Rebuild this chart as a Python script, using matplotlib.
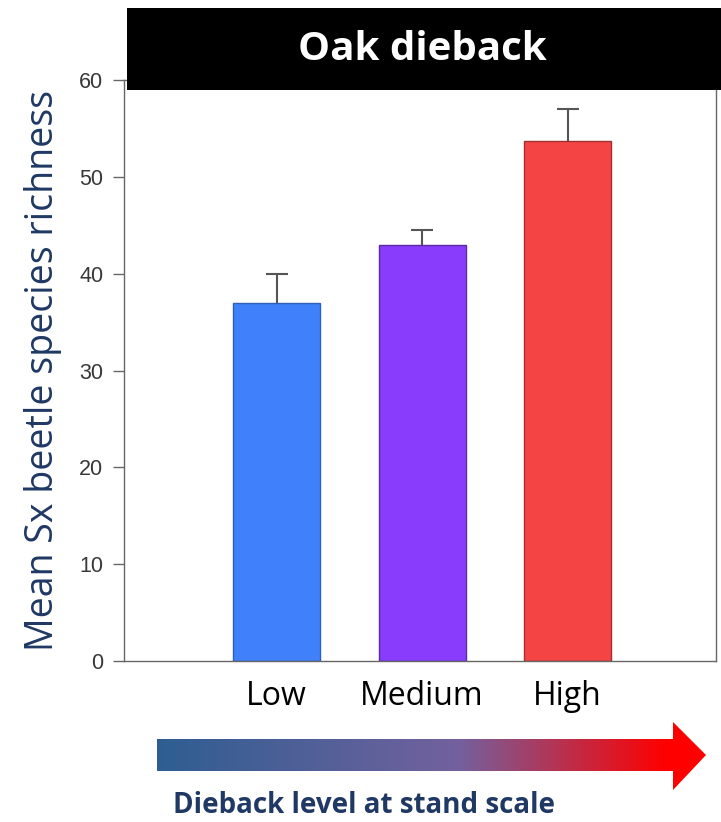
import numpy as np
import matplotlib.pyplot as plt
from matplotlib.patches import Polygon, Rectangle

# data
levels = ['Low', 'Medium', 'High']
richness = [37.0, 43.0, 53.7]
richness_se = [3.0, 1.5, 3.3]
bar_colors = ['#4080fb', '#8a3cfd', '#f44444']
edge_colors = ['#2f5fb8', '#5a2aa0', '#a03030']

W, H = 721, 822
fig = plt.figure(figsize=(W / 100, H / 100), dpi=100)

# pixel-coordinate overlay for decorations (title box, arrow, caption)
deco = fig.add_axes([0, 0, 1, 1], zorder=3)
deco.set_xlim(0, W)
deco.set_ylim(H, 0)
deco.axis('off')

ax = fig.add_axes([124 / W, 1 - 661 / H, 592 / W, 581 / H], zorder=1)
x = np.arange(len(levels))
ax.bar(x, richness, width=0.6, color=bar_colors, edgecolor=edge_colors, linewidth=1)
# one-sided error bars, cap only at the top
tops = np.array(richness) + np.array(richness_se)
ax.vlines(x, richness, tops, color='#555555', linewidth=1.5)
ax.scatter(x, tops, marker='_', s=260, color='#555555', linewidths=1.5, zorder=3)
ax.set_xlim(-1.05, 3.02)
ax.set_ylim(0, 60)
ax.set_yticks(range(0, 61, 10))
ax.set_xticks(x)
ax.set_xticklabels(levels, fontsize=23, family='Open Sans', color='black')
ax.tick_params(axis='x', length=0, pad=14)
ax.tick_params(axis='y', length=8, width=1, color='#666666', labelsize=15.5,
               labelcolor='#383838', pad=7)
for lab in ax.get_yticklabels():
    lab.set_family('Liberation Sans')
for s in ax.spines.values():
    s.set_color('#666666')
    s.set_linewidth(1)
ax.set_ylabel('Mean Sx beetle species richness', fontsize=27, family='Open Sans',
              color='#1f3864', labelpad=12)

# title box
deco.add_patch(Rectangle((127, 8), W - 127, 82, facecolor='black', edgecolor='none'))
deco.text(422, 50, 'Oak dieback', color='white', fontsize=29, fontweight='bold',
          family='Open Sans', ha='center', va='center')

# gradient arrow
arrow = Polygon([[157, 739], [673, 739], [673, 722], [706, 755], [673, 790],
                 [673, 771], [157, 771]], closed=True, facecolor='none', edgecolor='none')
deco.add_patch(arrow)
t = np.linspace(0, 1, 256)[:, None]
c0 = np.array([0.18, 0.37, 0.57])
c1 = np.array([0.45, 0.38, 0.62])
c2 = np.array([1.0, 0.0, 0.0])
grad = np.where(t < 0.55, c0 + (c1 - c0) * (t / 0.55),
                c1 + (c2 - c1) * np.clip((t - 0.55) / 0.38, 0, 1))
img = deco.imshow(grad[None, :, :], extent=[157, 706, 790, 722], aspect='auto',
                  interpolation='bicubic')
img.set_clip_path(arrow)

deco.text(173, 805, 'Dieback level at stand scale', color='#1f3864', fontsize=20,
          fontweight='bold', family='Open Sans', ha='left', va='center')

fig.savefig('out.png', dpi=100)
